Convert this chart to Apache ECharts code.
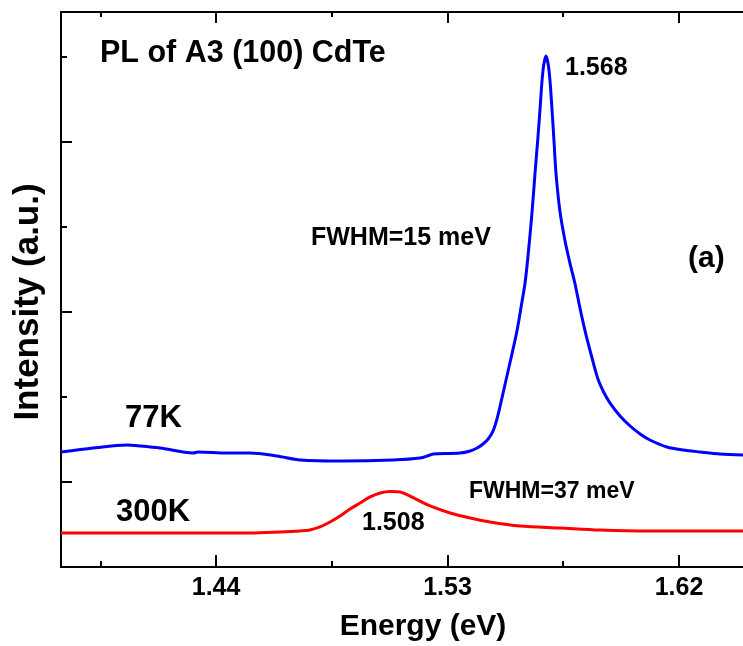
<!DOCTYPE html>
<html>
<head>
<meta charset="utf-8">
<script src="https://cdn.jsdelivr.net/npm/echarts@6/dist/echarts.min.js"></script>
<style>
  html, body { margin: 0; padding: 0; background: #fff; }
  #chart { width: 743px; height: 646px; }
</style>
</head>
<body>
<div id="chart"></div>
<script>
// 77K spectrum (blue)
const energy77 = [1.3797, 1.3922, 1.4054, 1.4105, 1.4182, 1.4311, 1.4330, 1.4443, 1.4532, 1.4637,
  1.4727, 1.4894, 1.5088, 1.5193, 1.5232, 1.5244, 1.5349, 1.5388, 1.5415, 1.5438,
  1.5458, 1.5477, 1.5489, 1.5500, 1.5524, 1.5547, 1.5570, 1.5590, 1.5601, 1.5613,
  1.5629, 1.5640, 1.5652, 1.5660, 1.5671, 1.5683, 1.5695, 1.5706, 1.5714, 1.5722,
  1.5737, 1.5757, 1.5776, 1.5796, 1.5815, 1.5835, 1.5862, 1.5885, 1.5909, 1.5932,
  1.5971, 1.6010, 1.6049, 1.6087, 1.6153, 1.6216, 1.6282, 1.6360, 1.6449];
const intensity77 = [1.353, 1.400, 1.435, 1.424, 1.400, 1.341, 1.353, 1.341, 1.341, 1.306,
  1.259, 1.247, 1.259, 1.282, 1.318, 1.329, 1.341, 1.365, 1.400, 1.447,
  1.506, 1.600, 1.706, 1.835, 2.153, 2.459, 2.776, 3.129, 3.329, 3.659,
  4.188, 4.624, 5.071, 5.400, 5.835, 6.012, 5.835, 5.400, 5.012, 4.624,
  4.188, 3.835, 3.576, 3.329, 3.047, 2.776, 2.459, 2.212, 2.047, 1.929,
  1.776, 1.659, 1.565, 1.494, 1.412, 1.376, 1.353, 1.329, 1.318];

// 300K spectrum (red)
const energy300 = [1.3797, 1.4143, 1.4532, 1.4649, 1.4727, 1.4765, 1.4804, 1.4843, 1.4882, 1.4921,
  1.4960, 1.4999, 1.5038, 1.5077, 1.5115, 1.5154, 1.5193, 1.5232, 1.5310, 1.5388,
  1.5465, 1.5582, 1.5737, 1.5893, 1.6087, 1.6449];
const intensity300 = [0.400, 0.400, 0.400, 0.412, 0.424, 0.435, 0.471, 0.529, 0.600, 0.682,
  0.753, 0.824, 0.871, 0.888, 0.882, 0.835, 0.776, 0.718, 0.635, 0.576,
  0.529, 0.482, 0.459, 0.435, 0.424, 0.424];

const xMajorTicks = [1.44, 1.53, 1.62];
const xMinorTicks = [1.395, 1.485, 1.575];
const yMajorTicks = [1, 3, 5];
const yMinorTicks = [2, 4, 6];

const X_MIN = 1.3797, X_MAX = 1.6449;
const Y_MIN = 0, Y_MAX = 6.53;

const zip = (xs, ys) => xs.map((x, i) => [x, ys[i]]);
const font = 'Liberation Sans, Arial, sans-serif';

function xAxis(pos, ticks, len, withLine, withLabel) {
  return {
    type: 'value', position: pos, min: X_MIN, max: X_MAX,
    axisLine: { show: withLine, lineStyle: { color: '#000', width: 2 } },
    axisTick: { show: true, inside: true, length: len, customValues: ticks,
      lineStyle: { color: '#000', width: 2 } },
    axisLabel: withLabel ? {
      show: true, customValues: ticks, margin: 9,
      formatter: v => v.toFixed(2),
      color: '#000', fontSize: 25, fontWeight: 'bold', fontFamily: font
    } : { show: false },
    splitLine: { show: false }
  };
}

function yAxis(ticks, len, withLine) {
  return {
    type: 'value', position: 'left', min: Y_MIN, max: Y_MAX,
    axisLine: { show: withLine, onZero: false, lineStyle: { color: '#000', width: 2 } },
    axisTick: { show: true, inside: true, length: len, customValues: ticks,
      lineStyle: { color: '#000', width: 2 } },
    axisLabel: { show: false },
    splitLine: { show: false }
  };
}

function label(text, x, y, size, align) {
  return {
    type: 'text', x: x, y: y,
    style: { text: text, fill: '#000', font: 'bold ' + size + 'px ' + font,
      textAlign: align || 'left', textVerticalAlign: 'middle' }
  };
}

const chart = echarts.init(document.getElementById('chart'));
chart.setOption({
  animation: false,
  grid: { left: 61, right: 0, top: 12, bottom: 79 },
  xAxis: [
    xAxis('bottom', xMajorTicks, 12, true, true),
    xAxis('bottom', xMinorTicks, 6, false, false),
    xAxis('top', xMajorTicks, 11, true, false),
    xAxis('top', xMinorTicks, 5, false, false)
  ],
  yAxis: [
    yAxis(yMajorTicks, 11, true),
    yAxis(yMinorTicks, 6, false)
  ],
  series: [
    {
      name: '77K', type: 'line', xAxisIndex: 0, yAxisIndex: 0,
      data: zip(energy77, intensity77),
      smooth: 0.3, showSymbol: false,
      lineStyle: { color: '#0000ff', width: 3 }
    },
    {
      name: '300K', type: 'line', xAxisIndex: 0, yAxisIndex: 0,
      data: zip(energy300, intensity300),
      smooth: 0.3, showSymbol: false,
      lineStyle: { color: '#ff0000', width: 3 }
    }
  ],
  graphic: [
    label('PL of A3 (100) CdTe', 100, 54, 30.5),
    label('1.568', 565, 68, 25),
    label('FWHM=15 meV', 311, 238, 25),
    label('(a)', 688, 259, 30),
    label('77K', 125, 418, 31),
    label('300K', 116, 512, 31),
    label('1.508', 362, 523, 25),
    label('FWHM=37 meV', 469, 492, 23),
    label('Energy (eV)', 423, 627, 30, 'center'),
    {
      type: 'text', x: 28, y: 302, rotation: Math.PI / 2,
      style: { text: 'Intensity (a.u.)', fill: '#000', font: 'bold 35px ' + font,
        textAlign: 'center', textVerticalAlign: 'middle' }
    }
  ]
});
</script>
</body>
</html>
